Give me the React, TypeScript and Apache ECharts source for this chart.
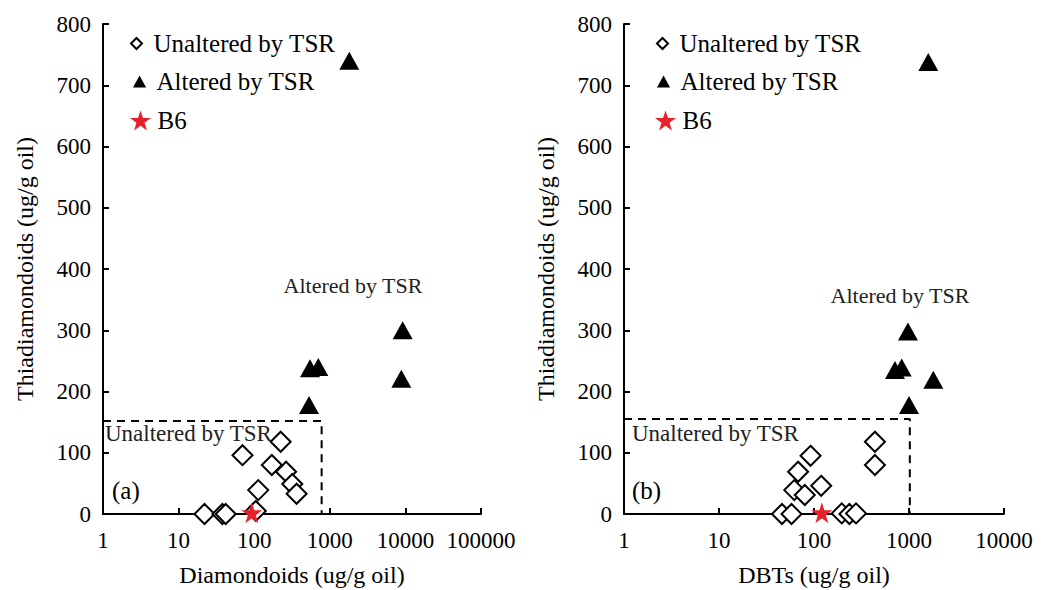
import React, { useEffect, useRef } from "react";
import * as echarts from "echarts";

// ---------- data ----------
const yMin = 0;
const yMax = 800;
const yInterval = 100;
const xMaxA = 100000;
const xMaxB = 10000;

// Panel (a): Diamondoids vs Thiadiamondoids
const unalteredA: [number, number][] = [
  [22, 0], [38, 0], [42, 0], [105, 5], [113, 39], [70, 96],
  [224, 118], [171, 80], [264, 69], [319, 49], [364, 33],
];
const alteredA: [number, number][] = [
  [1811, 740], [9200, 300], [8830, 221], [547, 238], [705, 240], [531, 178],
];
const b6A: [number, number][] = [[93, 2]];
const cutoffA: [number, number][] = [[1, 152], [780, 152], [780, 0]];

// Panel (b): DBTs vs Thiadiamondoids
const unalteredB: [number, number][] = [
  [46, 0], [58, 0], [196, 1], [236, 0], [277, 1], [68, 69], [92, 95],
  [62, 39], [80, 31], [119, 46], [438, 118], [438, 80],
];
const alteredB: [number, number][] = [
  [1597, 738], [975, 298], [712, 235], [838, 239], [1803, 219], [1000, 178],
];
const b6B: [number, number][] = [[121, 2]];
const cutoffB: [number, number][] = [[1, 155], [1020, 155], [1020, 0]];

const NAME_UN = "Unaltered by TSR";
const NAME_AL = "Altered by TSR";
const NAME_B6 = "B6";
const yTitle = "Thiadiamondoids (ug/g oil)";
const xTitleA = "Diamondoids (ug/g oil)";
const xTitleB = "DBTs (ug/g oil)";

// ---------- styles ----------
const FONT = "Liberation Serif";
const STAR =
  "path://M50,0L61.2,34.5L97.6,34.5L68.2,55.9L79.4,90.5L50,69.1L20.6,90.5L31.8,55.9L2.4,34.5L38.8,34.5Z";
const DIAMOND = "path://M10,0L20,10L10,20L0,10Z";
const TRI = "path://M6,0L12,11L0,11Z";
const RED = "#e8202a";

const axisLine = { show: true, lineStyle: { color: "#000", width: 2 } };
const axisTick = { show: true, inside: true, length: 6, lineStyle: { color: "#000", width: 2 } };
const labelStyle = { color: "#000", fontFamily: FONT, fontSize: 23 };
const nameStyle = { color: "#000", fontFamily: FONT, fontSize: 24 };

function xAxis(gridIndex: number, max: number, title: string) {
  return {
    type: "log",
    logBase: 10,
    gridIndex,
    min: 1,
    max,
    name: title,
    nameLocation: "middle",
    nameGap: 49,
    nameTextStyle: nameStyle,
    axisLine,
    axisTick,
    minorTick: { show: false },
    splitLine: { show: false },
    axisLabel: { ...labelStyle, margin: 15, formatter: (v: number) => String(Math.round(v)) },
  };
}

function yAxis(gridIndex: number) {
  return {
    type: "value",
    gridIndex,
    min: yMin,
    max: yMax,
    interval: yInterval,
    name: yTitle,
    nameLocation: "middle",
    nameGap: 66,
    nameTextStyle: nameStyle,
    axisLine,
    axisTick,
    splitLine: { show: false },
    axisLabel: { ...labelStyle, margin: 12 },
  };
}

function panelSeries(
  idx: number,
  un: [number, number][],
  al: [number, number][],
  b6: [number, number][],
  cut: [number, number][]
) {
  return [
    {
      type: "line",
      name: "cutoff",
      xAxisIndex: idx,
      yAxisIndex: idx,
      data: cut,
      showSymbol: false,
      symbol: "none",
      lineStyle: { color: "#000", width: 2, type: [8, 6] },
      silent: true,
      z: 1,
    },
    {
      type: "scatter",
      name: NAME_UN,
      xAxisIndex: idx,
      yAxisIndex: idx,
      data: un,
      symbol: "diamond",
      symbolSize: 20,
      clip: false,
      itemStyle: { color: "#fff", borderColor: "#000", borderWidth: 2, opacity: 1 },
      z: 2,
    },
    {
      type: "scatter",
      name: NAME_AL,
      xAxisIndex: idx,
      yAxisIndex: idx,
      data: al,
      symbol: "triangle",
      symbolSize: [20, 18],
      clip: false,
      itemStyle: { color: "#000", opacity: 1 },
      z: 3,
    },
    {
      type: "scatter",
      name: NAME_B6,
      xAxisIndex: idx,
      yAxisIndex: idx,
      data: b6,
      symbol: STAR,
      symbolSize: 21,
      clip: false,
      itemStyle: { color: RED, opacity: 1 },
      z: 4,
    },
  ];
}

function legendItem(left: number, centerY: number, name: string, icon: string, itemStyle: any, h: number) {
  return {
    left,
    top: centerY - 12,
    padding: 0,
    selectedMode: false,
    itemWidth: 24,
    itemHeight: h,
    data: [{ name, icon, itemStyle }],
    textStyle: { color: "#000", fontFamily: FONT, fontSize: 25 },
  };
}

const unStyle = { color: "#fff", borderColor: "#000", borderWidth: 2 };
const alStyle = { color: "#000", borderWidth: 0 };
const b6Style = { color: RED, borderWidth: 0 };

function annot(x: number, y: number, text: string, align: string, size: number, fill = "#222") {
  return {
    type: "text",
    x,
    y,
    silent: true,
    style: {
      text,
      fill,
      fontFamily: FONT,
      fontSize: size,
      align,
      verticalAlign: "middle",
    },
  };
}

export default function App() {
  const ref = useRef<HTMLDivElement>(null);
  useEffect(() => {
    if (!ref.current) return;
    const chart = echarts.init(ref.current, undefined, { renderer: "svg" });
    chart.setOption({
      animation: false,
      backgroundColor: "#fff",
      textStyle: { fontFamily: FONT },
      grid: [
        { left: 103, top: 24, width: 378, height: 490, containLabel: false, outerBoundsMode: "none" },
        { left: 624, top: 24, width: 380, height: 490, containLabel: false, outerBoundsMode: "none" },
      ],
      xAxis: [xAxis(0, xMaxA, xTitleA), xAxis(1, xMaxB, xTitleB)],
      yAxis: [yAxis(0), yAxis(1)],
      legend: [
        legendItem(130, 43, NAME_UN, DIAMOND, unStyle, 11),
        legendItem(133, 81, NAME_AL, TRI, alStyle, 12),
        legendItem(130, 120, NAME_B6, STAR, b6Style, 20),
        legendItem(656, 43, NAME_UN, DIAMOND, unStyle, 11),
        legendItem(657, 81, NAME_AL, TRI, alStyle, 12),
        legendItem(655, 120, NAME_B6, STAR, b6Style, 20),
      ],
      series: [
        ...panelSeries(0, unalteredA, alteredA, b6A, cutoffA),
        ...panelSeries(1, unalteredB, alteredB, b6B, cutoffB),
      ],
      graphic: [
        annot(353, 285, "Altered by TSR", "center", 22),
        annot(105, 433, "Unaltered by TSR", "left", 23),
        annot(112, 490, "(a)", "left", 25, "#000"),
        annot(900, 295, "Altered by TSR", "center", 22),
        annot(632, 433, "Unaltered by TSR", "left", 23),
        annot(632, 490, "(b)", "left", 25, "#000"),
      ],
    });
    return () => chart.dispose();
  }, []);
  return (
    <div
      ref={ref}
      style={{ position: "fixed", left: 0, top: 0, width: 1043, height: 590, background: "#fff" }}
    />
  );
}
